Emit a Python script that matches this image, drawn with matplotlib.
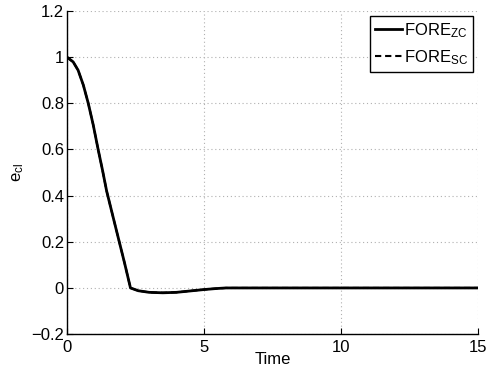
import matplotlib
matplotlib.use("Agg")
import matplotlib.pyplot as plt

plt.rcParams['font.family'] = ['Liberation Sans', 'DejaVu Sans']
plt.rcParams['mathtext.default'] = 'regular'
plt.rcParams['font.size'] = 12

t = [0, 0.23, 0.41, 0.6, 0.78, 0.96, 1.14, 1.3, 1.45, 1.68, 1.9, 2.1, 2.32, 2.6, 3.0, 3.5, 4.0, 4.5, 5.0, 5.4, 5.8, 15]
fore_zc = [1.0, 0.979, 0.943, 0.879, 0.80, 0.707, 0.60, 0.51, 0.42, 0.31, 0.205, 0.11, 0.0, -0.012, -0.019, -0.021, -0.019, -0.013, -0.007, -0.003, 0.0, 0.0]
fore_sc = [1.0, 0.979, 0.943, 0.879, 0.80, 0.707, 0.60, 0.51, 0.42, 0.31, 0.205, 0.11, 0.0, -0.012, -0.019, -0.021, -0.019, -0.013, -0.007, -0.003, 0.0, 0.0]
xticks = [0, 5, 10, 15]
yticks = [-0.2, 0, 0.2, 0.4, 0.6, 0.8, 1, 1.2]
yticklabels = ['\u22120.2', '0', '0.2', '0.4', '0.6', '0.8', '1', '1.2']

fig = plt.figure(figsize=(4.88, 3.75), dpi=100)
ax = fig.add_axes([0.137, 0.109, 0.843, 0.862])
ax.plot(t, fore_zc, color='black', lw=2, ls='-', label=r'FORE$_{ZC}$')
ax.plot(t, fore_sc, color='black', lw=1.5, ls=(0, (3, 1.85)), label=r'FORE$_{SC}$')
ax.set_xlim(0, 15)
ax.set_ylim(-0.2, 1.2)
ax.set_xticks(xticks)
ax.set_yticks(yticks)
ax.set_yticklabels(yticklabels)
ax.grid(True, color='#b0b0b0', ls=(0, (1, 2.5)), lw=0.8)
for s in ['top', 'right']:
    ax.spines[s].set_visible(False)
for s in ['left', 'bottom']:
    ax.spines[s].set_linewidth(1.0)
ax.tick_params(direction='in', length=4, width=0.8)
ax.tick_params(axis='x', pad=4)
ax.tick_params(axis='y', pad=2)
ax.set_xlabel('Time', labelpad=-2)
ax.set_ylabel(r'e$_{cl}$', labelpad=4)
leg = ax.legend(loc='upper right', fancybox=False, edgecolor='black', framealpha=1,
                handlelength=1.6, handletextpad=0.15, borderpad=0.3, labelspacing=0.5,
                borderaxespad=0.3, fontsize=12)
leg.get_frame().set_linewidth(1.0)
fig.savefig('out.png', dpi=100)
